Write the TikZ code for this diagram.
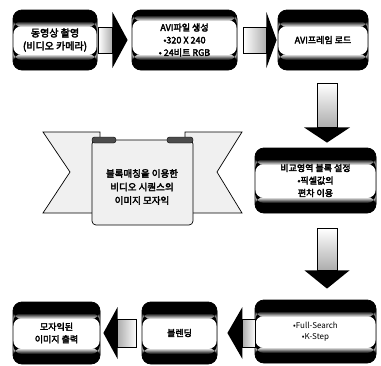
\documentclass[tikz,border=0pt]{standalone}
\usepackage{fontspec}
\newfontfamily\krfont{Noto Sans CJK KR}[AutoFakeBold=3]
\usepackage{tikz}
\usetikzlibrary{calc}
\tikzset{
	procbox/.style={rectangle, rounded corners=9pt, draw=black, line width=0.8pt, fill=black, align=center, inner sep=2pt, font=\krfont\bfseries\fontsize{9}{12.5}\selectfont,
		path picture={
			\fill[white] ($(path picture bounding box.north west)+(0,{-#1*1pt})$) rectangle ($(path picture bounding box.south east)+(0,15pt)$);
			\shade[top color=black, bottom color=white] ($(path picture bounding box.north west)+(0,{-(#1-5)*1pt})$) rectangle ($(path picture bounding box.north east)+(0,{-(#1+1)*1pt})$);
			\shade[top color=white, bottom color=black] ($(path picture bounding box.south west)+(0,16pt)$) rectangle ($(path picture bounding box.south east)+(0,10pt)$);
		}},
	procbox/.default=16,
	listbox/.style={procbox, font=\krfont\fontsize{8}{11.5}\selectfont},
	shaft/.style={draw=black, line width=0.7pt, left color=white, right color=gray!65},
	lshaft/.style={draw=black, line width=0.7pt, left color=gray!65, right color=white},
	vshaft/.style={draw=black, line width=0.7pt, top color=white, bottom color=gray!65},
	blockhead/.style={fill=black},
	ribbon/.style={draw=black, line width=0.7pt, fill=gray!12},
	ribbontext/.style={align=center, font=\krfont\bfseries\fontsize{9.5}{13.5}\selectfont},
}
\begin{document}
\begin{tikzpicture}[x=1pt, y=-1pt]
	\useasboundingbox (0,0) rectangle (381,365);
	% ribbon
	\draw[ribbon] (100,132) -- (43,132) -- (70,172) -- (43,213) -- (100,213) -- cycle;
	\draw[ribbon] (185,132) -- (242,132) -- (217,172) -- (242,213) -- (185,213) -- cycle;
	\draw[ribbon, rounded corners=4pt] (92,140) -- (92,225) -- (193,225) -- (193,140) -- cycle;
	\draw[fill=black!70, rounded corners=2.5pt] (92,143) -- (92,137) -- (116,137) -- (116,143) -- cycle;
	\draw[fill=black!70, rounded corners=2.5pt] (167,143) -- (167,137) -- (193,137) -- (193,143) -- cycle;
	\node[ribbontext] (mosaic) at (142,187) {블록매칭을 이용한\\비디오 시퀀스의\\이미지 모자익};
	% process boxes
	\node[procbox, minimum width=84, minimum height=60, font=\krfont\bfseries\fontsize{10}{13}\selectfont] (shoot) at (55,40) {동영상 촬영\\(비디오 카메라)};
	\node[procbox=10, minimum width=105, minimum height=60] (avifile) at (184.5,40) {AVI파일 생성\\•320 X 240\\• 24비트 RGB};
	\node[procbox, minimum width=90, minimum height=60] (load) at (323,40) {AVI프레임 로드};
	\node[procbox, minimum width=121, minimum height=65] (region) at (315.5,180.5) {비교영역 블록 설정\\•픽셀값의\\편차 이용};
	\node[listbox, minimum width=121, minimum height=63] (match) at (315.5,331.5) {•Full-Search\\•K-Step};
	\node[procbox, minimum width=75, minimum height=62] (blend) at (179.5,333) {블렌딩};
	\node[procbox, minimum width=87, minimum height=62] (output) at (56.5,333) {모자익된\\이미지 출력};
	% block arrows
	\draw[shaft] ($(shoot.east)+(1,-13)$) rectangle ($(shoot.east)+(15,13)$);
	\fill[blockhead] ($(shoot.east)+(15,-28)$) -- ($(avifile.west)+(-4,0)$) -- ($(shoot.east)+(15,28)$) -- cycle;
	\draw[shaft] ($(avifile.east)+(6,-13)$) rectangle ($(avifile.east)+(29,13)$);
	\fill[blockhead] ($(avifile.east)+(29,-28)$) -- ($(load.west)+(-1,0)$) -- ($(avifile.east)+(29,28)$) -- cycle;
	\draw[vshaft] ($(load.south)+(-6,13)$) rectangle ($(load.south)+(14,57)$);
	\fill[blockhead] ($(load.south)+(-19,57)$) -- ($(region.north)+(11.5,-5)$) -- ($(load.south)+(27,57)$) -- cycle;
	\draw[vshaft] ($(region.south)+(1.5,15)$) rectangle ($(region.south)+(21.5,57)$);
	\fill[blockhead] ($(region.south)+(-11,57)$) -- ($(match.north)+(11.5,-11)$) -- ($(region.south)+(34,57)$) -- cycle;
	\draw[lshaft] ($(blend.east)+(25,-14)$) rectangle ($(blend.east)+(38,14)$);
	\fill[blockhead] ($(blend.east)+(25,-26)$) -- ($(blend.east)+(10,0)$) -- ($(blend.east)+(25,26)$) -- cycle;
	\draw[lshaft] ($(blend.west)+(-24,-14)$) rectangle ($(blend.west)+(-5,14)$);
	\fill[blockhead] ($(blend.west)+(-24,-26)$) -- ($(output.east)+(3,0)$) -- ($(blend.west)+(-24,26)$) -- cycle;
\end{tikzpicture}
\end{document}
